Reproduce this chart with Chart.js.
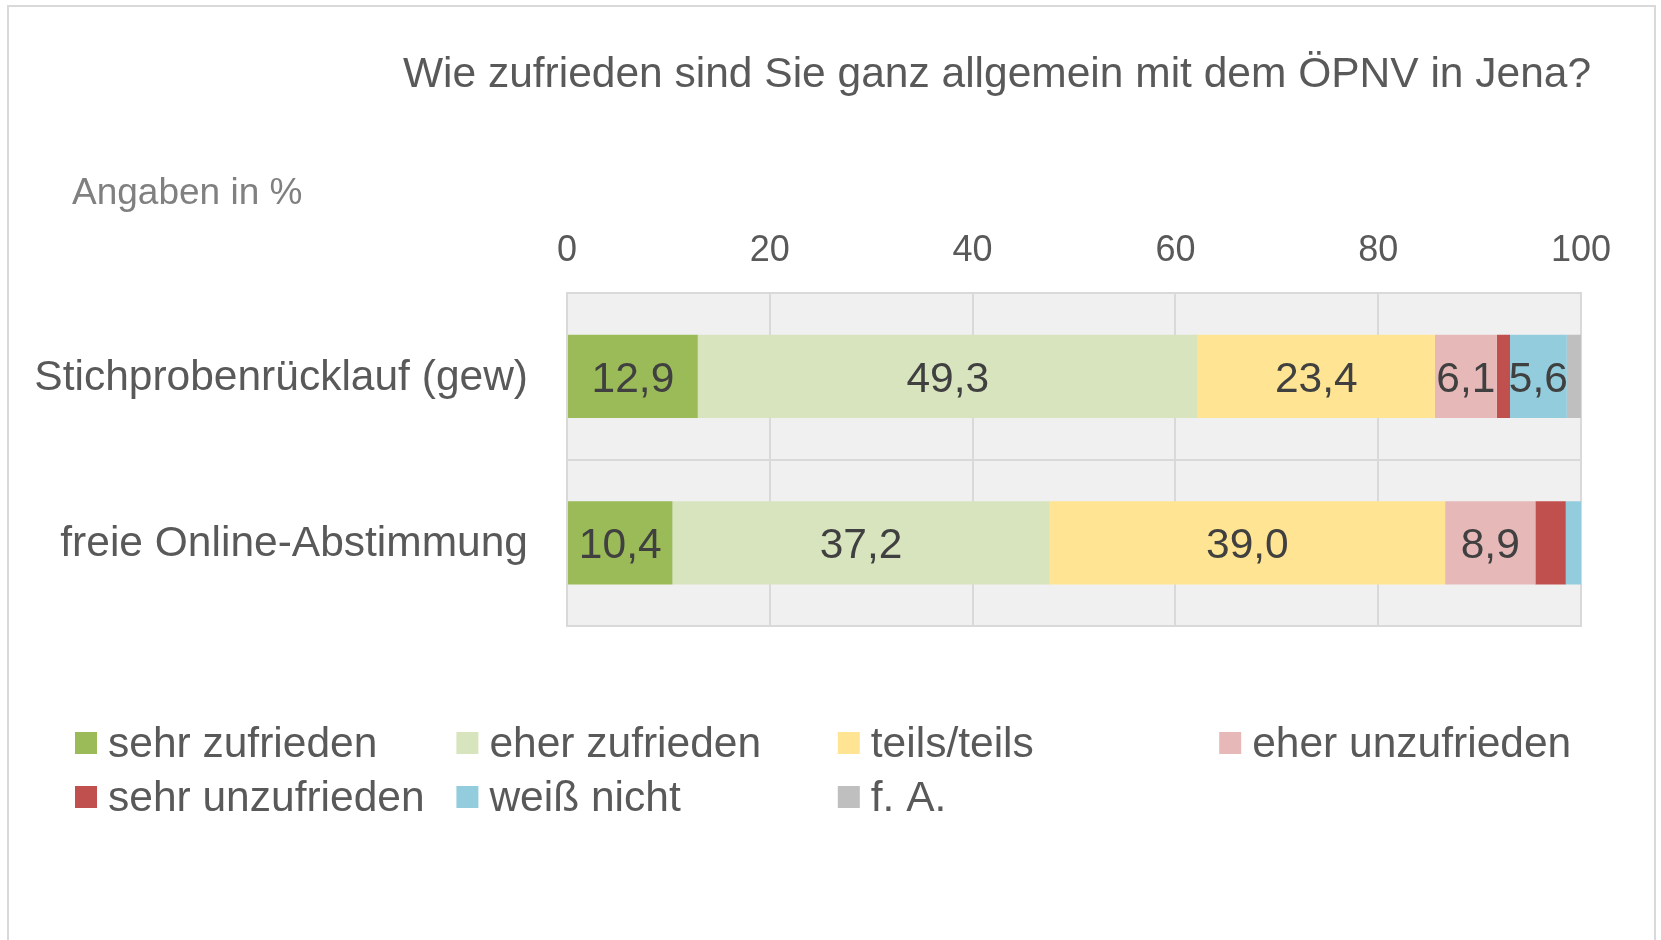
<!DOCTYPE html>
<html>
<head>
<meta charset="utf-8">
<script src="https://cdn.jsdelivr.net/npm/chart.js@4.4.1/dist/chart.umd.min.js"></script>
<style>
  html, body { margin: 0; padding: 0; background: #ffffff; }
  #wrap { position: relative; width: 1661px; height: 940px; }
</style>
</head>
<body>
<div id="wrap"><canvas id="c" width="1661" height="940"></canvas></div>
<script>
// ---- data ----
const categories = ['Stichprobenrücklauf (gew)', 'freie Online-Abstimmung'];
const seriesNames = ['sehr zufrieden', 'eher zufrieden', 'teils/teils', 'eher unzufrieden', 'sehr unzufrieden', 'weiß nicht', 'f. A.'];
const sehrZufrieden   = [12.9, 10.4];
const eherZufrieden   = [49.3, 37.2];
const teilsTeils      = [23.4, 39.0];
const eherUnzufrieden = [6.1, 8.9];
const sehrUnzufrieden = [1.3, 3.0];
const weissNicht      = [5.6, 1.5];
const keineAngabe     = [1.4, 0.0];
const titleText = 'Wie zufrieden sind Sie ganz allgemein mit dem ÖPNV in Jena?';
const unitText = 'Angaben in %';

const seriesValues = [sehrZufrieden, eherZufrieden, teilsTeils, eherUnzufrieden, sehrUnzufrieden, weissNicht, keineAngabe];
const seriesColors = ['#9BBB59', '#D7E4BD', '#FFE593', '#E6B9B8', '#C0504D', '#93CDDD', '#BFBFBF'];

const FONT = '"Liberation Sans", Arial, Helvetica, sans-serif';
const BIG = 42.5;

const datasets = seriesNames.map((name, i) => ({
  label: name,
  data: seriesValues[i],
  backgroundColor: seriesColors[i],
  borderWidth: 0,
  categoryPercentage: 1.0,
  barPercentage: 0.5
}));

const decorPlugin = {
  id: 'decor',
  beforeDraw(chart) {
    const ctx = chart.ctx;
    const a = chart.chartArea;
    ctx.save();
    ctx.fillStyle = '#ffffff';
    ctx.fillRect(0, 0, chart.width, chart.height);
    // outer frame
    ctx.strokeStyle = '#d9d9d9';
    ctx.lineWidth = 2;
    ctx.strokeRect(8, 6, 1647, 960);
    // plot background
    ctx.fillStyle = '#f0f0f0';
    ctx.fillRect(a.left, a.top, a.right - a.left, a.bottom - a.top);
    // title
    ctx.fillStyle = '#595959';
    ctx.font = BIG + 'px ' + FONT;
    ctx.textAlign = 'center';
    ctx.textBaseline = 'middle';
    ctx.fillText(titleText, 997, 75);
    // unit
    ctx.fillStyle = '#808080';
    ctx.font = '37px ' + FONT;
    ctx.textAlign = 'left';
    ctx.fillText(unitText, 72, 194);
    ctx.restore();
  },
  beforeDatasetsDraw(chart) {
    const ctx = chart.ctx;
    const a = chart.chartArea;
    ctx.save();
    ctx.strokeStyle = '#d9d9d9';
    ctx.lineWidth = 2;
    ctx.strokeRect(a.left, a.top, a.right - a.left, a.bottom - a.top);
    ctx.restore();
  },
  afterDatasetsDraw(chart) {
    const ctx = chart.ctx;
    ctx.save();
    ctx.font = BIG + 'px ' + FONT;
    ctx.fillStyle = '#404040';
    ctx.textAlign = 'center';
    ctx.textBaseline = 'middle';
    chart.data.datasets.forEach((ds, di) => {
      const meta = chart.getDatasetMeta(di);
      meta.data.forEach((el, i) => {
        const v = ds.data[i];
        if (v >= 5) {
          const cx = (el.x + el.base) / 2;
          ctx.fillText(v.toFixed(1).replace('.', ','), cx, el.y + 4);
        }
      });
    });
    ctx.restore();
  },
  afterDraw(chart) {
    const ctx = chart.ctx;
    ctx.save();
    ctx.font = BIG + 'px ' + FONT;
    ctx.textAlign = 'left';
    ctx.textBaseline = 'middle';
    chart.data.datasets.forEach((ds, i) => {
      const col = i % 4, row = Math.floor(i / 4);
      const x = 75 + col * 381.4;
      const y = 743 + row * 54;
      ctx.fillStyle = ds.backgroundColor;
      ctx.fillRect(x, y - 11, 22, 22);
      ctx.fillStyle = '#595959';
      ctx.fillText(ds.label, x + 33, y + 2);
    });
    ctx.restore();
  }
};

new Chart(document.getElementById('c'), {
  type: 'bar',
  data: { labels: categories, datasets: datasets },
  plugins: [decorPlugin],
  options: {
    indexAxis: 'y',
    responsive: false,
    animation: false,
    devicePixelRatio: 1,
    layout: { padding: { left: 0, right: 80, top: 200, bottom: 314 } },
    plugins: {
      legend: { display: false },
      title: { display: false },
      tooltip: { enabled: false }
    },
    scales: {
      x: {
        position: 'top',
        stacked: true,
        min: 0,
        max: 100,
        ticks: { stepSize: 20, color: '#595959', font: { family: FONT, size: 36 }, padding: 20 },
        grid: { color: '#d9d9d9', lineWidth: 2, drawTicks: false },
        border: { display: false },
        afterFit(scale) { scale.height = 93; }
      },
      y: {
        stacked: true,
        ticks: { color: '#595959', font: { family: FONT, size: BIG }, padding: 39, labelOffset: 2 },
        grid: { color: '#d9d9d9', lineWidth: 2, drawTicks: false, offset: true },
        border: { display: false },
        afterFit(scale) { scale.width = 567; }
      }
    }
  }
});
</script>
</body>
</html>
